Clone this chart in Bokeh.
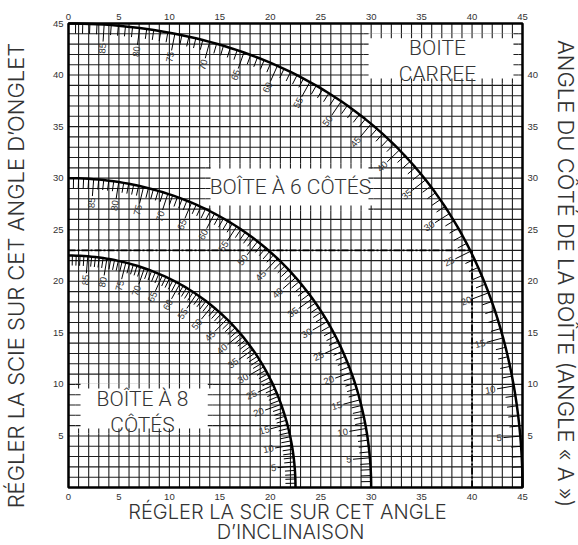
import numpy as np
from bokeh.plotting import figure
from bokeh.models import Range1d, LinearAxis, FixedTicker
from bokeh.core.properties import value
from bokeh.embed import file_html
from bokeh.resources import INLINE

# ---------------- data ----------------
box_sides = [4, 6, 8]
box_half_angles = [45.0, 30.0, 22.5]          # 180 / number of sides
side_angles = list(range(0, 91))               # angle "A" of the box side, 1 degree steps
labeled_side_angles = list(range(5, 90, 5))    # labelled ticks on each curve
x_ticks = list(range(0, 46, 5))
left_ticks = list(range(5, 46, 5))
right_ticks = list(range(5, 41, 5))
grid_values = list(range(0, 46))
example_bevel = 40
example_miter = 23

box_text = ["BOITE", "CARREE", "BOÎTE À 6 CÔTÉS", "BOÎTE À 8", "CÔTÉS"]
x_title = ["RÉGLER LA SCIE SUR CET ANGLE", "D’INCLINAISON"]
y_title_left = "RÉGLER LA SCIE SUR CET ANGLE D’ONGLET"
y_title_right = "ANGLE DU CÔTÉ DE LA BOÎTE (ANGLE « A »)"

# ---------------- layout (pixels) ----------------
W, H = 578, 545
FL, FR, FT, FB = 68, 522, 23, 487          # chart frame edges in pixels
kx = (FR - FL) / 45.0
ky = (FB - FT) / 45.0

def dx(px):
    return (px - FL) / kx

def dy(py):
    return (FB - py) / ky

FONT = "Liberation Sans"
LIGHT = "'Roboto Light', 'Liberation Sans'"
TITLE = "'Inter Light', 'Roboto Light', 'Liberation Sans'"
TXT = "#333333"

p = figure(width=W, height=H, x_range=Range1d(dx(0), dx(W)), y_range=Range1d(dy(H), dy(0)),
           output_backend="svg", toolbar_location=None, title=None,
           x_axis_location=None, y_axis_location=None, min_border=0)
p.background_fill_color = "white"
p.border_fill_color = "white"
p.outline_line_color = None
p.grid.visible = False

# axes placed at the chart edges
for side, loc, ticks, standoff in [("below", 0, x_ticks, 6), ("above", 45, x_ticks, 4),
                                   ("left", 0, left_ticks, 5), ("right", 45, right_ticks, 5)]:
    ax = LinearAxis(fixed_location=loc, ticker=FixedTicker(ticks=ticks))
    ax.major_tick_in = 0
    ax.major_tick_out = 0
    ax.minor_tick_in = 0
    ax.minor_tick_out = 0
    ax.axis_line_color = None
    ax.major_label_text_font = FONT
    ax.major_label_text_font_size = "9.5px"
    ax.major_label_text_color = TXT
    ax.major_label_standoff = standoff
    p.add_layout(ax, side)

# grid
g0, g1 = 0, 45
p.segment(x0=grid_values, y0=[g0] * len(grid_values), x1=grid_values, y1=[g1] * len(grid_values),
          line_color="#1e1e1e", line_width=1.1)
p.segment(x0=[g0] * len(grid_values), y0=grid_values, x1=[g1] * len(grid_values), y1=grid_values,
          line_color="#1e1e1e", line_width=1.1)

# ---------------- white label boxes with grid stubs ----------------
box_left = [29.25, 13.58, 0.7]
box_right = [44.6, 30.23, 14.3]
box_bottom = [39.18, 26.86, 5.24]
box_top = [44.05, 31.42, 10.09]
p.quad(left=box_left, right=box_right, bottom=box_bottom, top=box_top,
       fill_color="white", line_color=None)

stub = 5.0
sx0, sy0, sx1, sy1 = [], [], [], []
for l, r, b, t in zip(box_left, box_right, box_bottom, box_top):
    for gx in grid_values:
        if l < gx < r:
            sx0 += [gx, gx]; sx1 += [gx, gx]
            sy0 += [t, b]; sy1 += [t - stub / ky, b + stub / ky]
    for gy in grid_values:
        if b < gy < t:
            sy0 += [gy, gy]; sy1 += [gy, gy]
            sx0 += [l, r]; sx1 += [l + stub / kx, r - stub / kx]
p.segment(x0=sx0, y0=sy0, x1=sx1, y1=sy1, line_color="#1e1e1e", line_width=1.1)

p.text(x=[dx(437), dx(437), dx(290), dx(142), dx(142)],
       y=[dy(47), dy(73), dy(186), dy(398), dy(424)], text=box_text,
       text_font=value(LIGHT), text_font_size="21px", text_color=TXT,
       text_align="center", text_baseline="middle")

# frame
p.quad(left=[0], right=[45], bottom=[0], top=[45], fill_color=None,
       line_color="black", line_width=2.5)

# ---------------- compound miter curves ----------------
def curve(a_deg, half):
    a = np.radians(a_deg)
    t = np.radians(half)
    bevel = np.degrees(np.arcsin(np.cos(a) * np.sin(t)))
    miter = np.degrees(np.arctan(np.sin(a) * np.tan(t)))
    return bevel, miter

short_len, long_len = 10.0, 17.0
for half in box_half_angles:
    A = np.array(side_angles, dtype=float)
    bx, my = curve(A, half)
    p.line(bx, my, line_color="black", line_width=2.5)
    e = 0.01
    bxp, myp = curve(A + e, half)
    bxm, mym = curve(A - e, half)
    dX = (bxp - bxm) * kx
    dY = (myp - mym) * ky
    nrm = np.hypot(dX, dY)
    nx, ny = -dY / nrm, dX / nrm      # inward normal in screen space
    is_lab = np.isin(A, labeled_side_angles)
    L = np.where(is_lab, long_len, short_len)
    p.segment(x0=bx, y0=my, x1=bx + nx * L / kx, y1=my + ny * L / ky,
              line_color="black", line_width=1)
    lx = bx[is_lab] + nx[is_lab] * (long_len + 1.5) / kx
    ly = my[is_lab] + ny[is_lab] * (long_len + 1.5) / ky
    ang = np.arctan2(-ny[is_lab], -nx[is_lab])
    p.text(x=lx, y=ly, text=[str(int(a)) for a in A[is_lab]], angle=ang,
           text_font=value(FONT), text_font_size="9.5px", text_color=TXT,
           text_align="right", text_baseline="middle")

# ---------------- example dashed lines ----------------
p.line([0, example_bevel], [example_miter, example_miter], line_color="black",
       line_width=1.8, line_dash="7 2 2 2")
p.line([example_bevel, example_bevel], [0, example_miter], line_color="black",
       line_width=1.8, line_dash="7 2 2 2")

# ---------------- axis titles ----------------
p.text(x=[dx(287), dx(290)], y=[dy(511), dy(531)], text=x_title,
       text_font=value(TITLE), text_font_size="20px", text_color=TXT,
       text_align="center", text_baseline="middle")
p.text(x=[dx(15)], y=[dy(275)], text=[y_title_left], angle=np.pi / 2,
       text_font=value(TITLE), text_font_size="22px",
       text_color=TXT, text_align="center", text_baseline="middle")
p.text(x=[dx(565)], y=[dy(273)], text=[y_title_right], angle=-np.pi / 2,
       text_font=value(TITLE), text_font_size="22px",
       text_color=TXT, text_align="center", text_baseline="middle")

open("out.html", "w").write(file_html(p, INLINE))
